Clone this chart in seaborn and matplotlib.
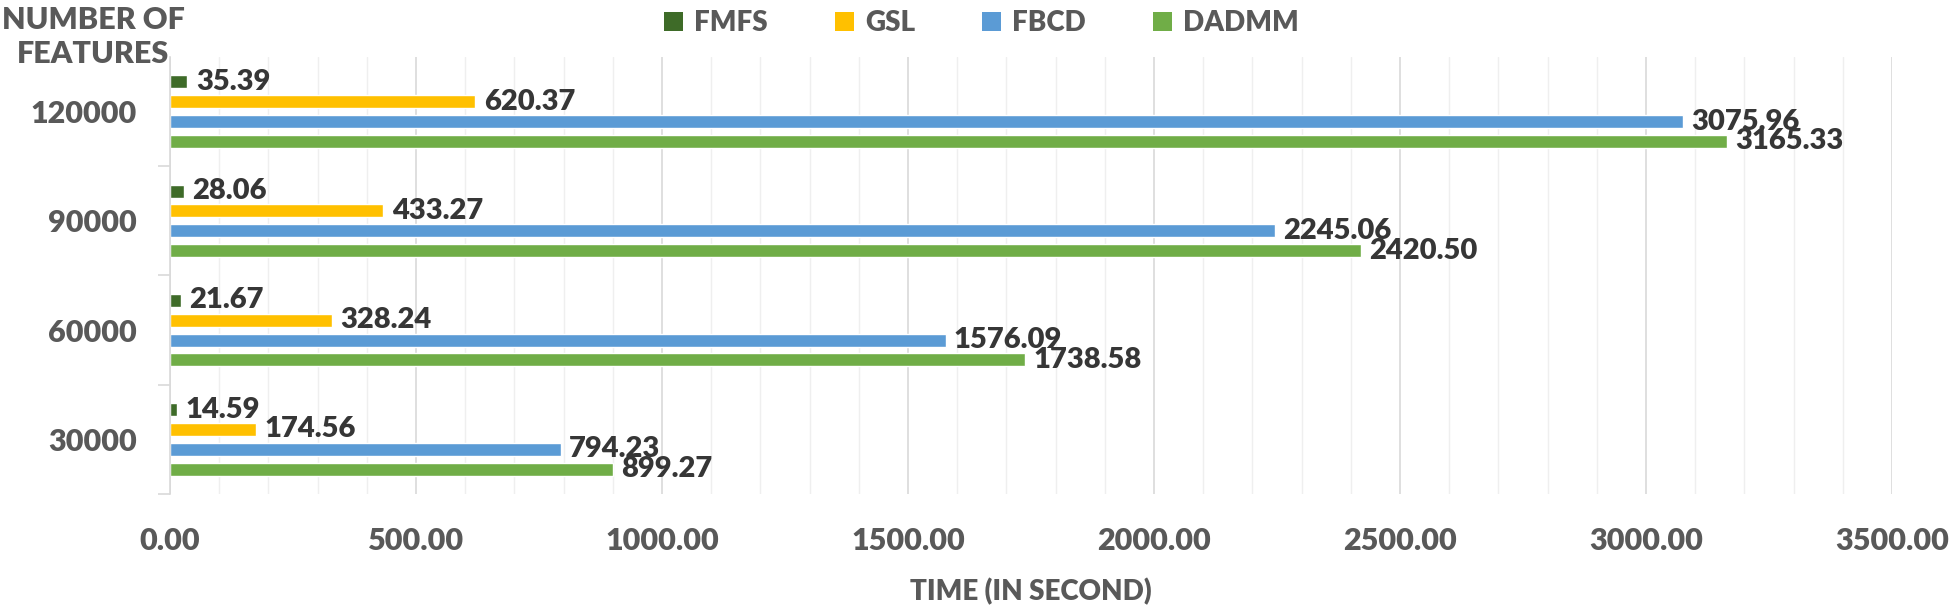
import pandas as pd
import matplotlib
matplotlib.use("Agg")
import matplotlib.pyplot as plt
from matplotlib.patches import Patch
from matplotlib.ticker import MultipleLocator, FixedLocator, FormatStrFormatter
import seaborn as sns

# values
features = ["120000", "90000", "60000", "30000"]
methods = ["FMFS", "GSL", "FBCD", "DADMM"]
fmfs = [35.39, 28.06, 21.67, 14.59]
gsl = [620.37, 433.27, 328.24, 174.56]
fbcd = [3075.96, 2245.06, 1576.09, 794.23]
dadmm = [3165.33, 2420.50, 1738.58, 899.27]
colors = ["#3E6B28", "#FFC000", "#5B9BD5", "#70AD47"]

rows = []
for name, vals in zip(methods, [fmfs, gsl, fbcd, dadmm]):
    for feat, v in zip(features, vals):
        rows.append({"features": feat, "method": name, "time": v})
df = pd.DataFrame(rows)

sns.set_style("white")
plt.rcParams["font.family"] = ["Lato", "DejaVu Sans"]
W = "heavy"
plt.rcParams["font.weight"] = W

txt_gray = "#595959"
lab_dark = "#363636"

fig = plt.figure(figsize=(19.55, 6.11), dpi=100)
ax = fig.add_axes([0.087, 0.1915, 0.8808, 0.7152])

sns.barplot(
    data=df, y="features", x="time", hue="method",
    order=features, hue_order=methods, palette=colors,
    orient="h", width=0.727, gap=0.35, legend=False, ax=ax,
    saturation=1,
)

for cont in ax.containers:
    ax.bar_label(cont, fmt="%.2f", padding=6, fontsize=21,
                 fontweight=W, color=lab_dark)

# x axis
ax.set_xlim(0, 3500)
ax.xaxis.set_major_locator(MultipleLocator(500))
ax.xaxis.set_minor_locator(MultipleLocator(100))
ax.xaxis.set_major_formatter(FormatStrFormatter("%.2f"))
ax.grid(axis="x", which="major", color="#D9D9D9", lw=1.2)
ax.grid(axis="x", which="minor", color="#EFEFEF", lw=1.0)
ax.set_axisbelow(True)
ax.tick_params(axis="x", which="both", length=0, pad=24, labelsize=22,
               labelcolor=txt_gray)
ax.set_xlabel("TIME (IN SECOND)", fontsize=20, fontweight=W,
              color=txt_gray, labelpad=16)

# y axis
ax.set_ylim(3.5, -0.5)
ax.yaxis.set_minor_locator(FixedLocator([0.5, 1.5, 2.5, 3.5]))
ax.tick_params(axis="y", which="major", length=0, pad=24, labelsize=22,
               labelcolor=txt_gray)
ax.tick_params(axis="y", which="minor", length=8.6, width=1.2,
               color="#D9D9D9", left=True)
ax.set_ylabel("")
ax.grid(axis="y", visible=False)

for s in ["top", "right", "bottom"]:
    ax.spines[s].set_visible(False)
ax.spines["left"].set_color("#D9D9D9")
ax.spines["left"].set_linewidth(1.2)

fig.text(93 / 1955, 1 - 37 / 611, "NUMBER OF\nFEATURES", ha="center",
         va="center", fontsize=22, fontweight=W, color=txt_gray,
         linespacing=1.25)

handles = [Patch(facecolor=c, edgecolor="none", label=m)
           for m, c in zip(methods, colors)]
fig.legend(handles=handles, loc="center", bbox_to_anchor=(0.502, 1 - 23 / 611),
           ncol=4, frameon=False, handlelength=0.7,
           handleheight=0.7, handletextpad=0.4, columnspacing=2.4,
           labelcolor=txt_gray, prop={"weight": W, "size": 20})

fig.savefig("out.png", dpi=100)
